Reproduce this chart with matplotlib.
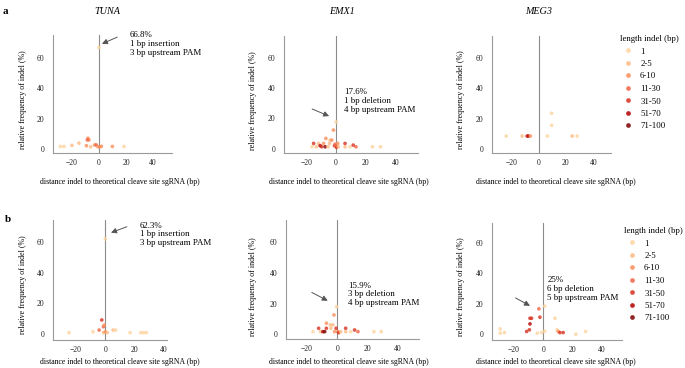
import matplotlib
matplotlib.use('Agg')
import matplotlib.pyplot as plt
from matplotlib.lines import Line2D

plt.rcParams['font.family'] = ['Liberation Serif', 'DejaVu Serif']

W, H = 685, 368

# indel length classes and colours
classes = ['1', '2-5', '6-10', '11-30', '31-50', '51-70', '71-100']
class_colors = ['#fdd49e', '#fdbb84', '#fc8d59', '#ef6548', '#d7301f', '#b30000', '#7f0000']

# x: distance indel to cleave site (bp), y: relative frequency (%), c: length class index
tuna_a_x = [-28.6, -25.9, -20, -14.8, -9.3, -8.1, -7.4, -8.6, -6.1, -3.2, -2, -0.7, 0.5, 1.8, 9.9, 18.5, 0]
tuna_a_y = [1.7, 1.7, 2.4, 3.9, 2.2, 7.1, 6.0, 6.0, 1.5, 2.7, 2.7, 1.5, 1.5, 1.8, 1.7, 1.7, 66.8]
tuna_a_c = [0, 0, 1, 1, 2, 2, 2, 3, 1, 2, 3, 2, 2, 2, 2, 0, 0]

emx1_a_x = [-16.2, -15.1, -13.3, -11.8, -10.7, -9.6, -8.4, -7.3, -6.9, -5.5, -4.4, -4.0, -2.9, -1.8,
            -1.1, -0.7, 0, 0.3, 0, 1.1, 1.5, 6.0, 6.0, 9.3, 11.5, 13.3, 24.4, 29.8]
emx1_a_y = [1.3, 3.5, 1.3, 3.5, 2.0, 1.3, 3.5, 1.3, 6.8, 1.3, 3.5, 5.7, 5.7, 12.3,
            2.0, 3.0, 1.3, 1.0, 17.6, 3.5, 1.3, 3.5, 1.3, 1.3, 2.4, 1.3, 1.3, 1.3]
emx1_a_c = [0, 4, 1, 1, 5, 4, 2, 6, 2, 1, 1, 1, 2, 2,
            4, 3, 2, 4, 0, 2, 1, 4, 1, 0, 4, 3, 0, 0]

meg3_a_x = [-23.6, -12, -8.4, -7.4, -6, 6.5, 9.6, 9.6, 24.6, 28.2]
meg3_a_y = [8.7, 8.7, 8.7, 8.7, 8.7, 8.7, 23.6, 15.7, 8.7, 8.7]
meg3_a_c = [0, 1, 4, 5, 2, 0, 0, 0, 1, 0]

tuna_b_x = [-24.7, -8.4, -4.2, -2.4, -1.3, -0.7, -1.3, 0, 1.3, 5.3, 7.1, 16.9, 24.2, 26, 28, 0]
tuna_b_y = [0.9, 1.5, 2.6, 9.2, 4.8, 5.9, 0.9, 1.5, 0.9, 2.6, 2.6, 0.9, 0.9, 0.9, 0.9, 62.3]
tuna_b_c = [0, 0, 3, 4, 3, 2, 1, 2, 1, 1, 0, 0, 0, 0, 0, 0]

emx1_b_x = [-16, -12.3, -11, -9.5, -8.3, -7.2, -7.2, -4.6, -4.2, -2.9, -2.2, -0.5, -1.8, -0.8,
            0.4, 0.8, 2.2, 5.5, 5.5, 8.8, 11.4, 13.6, 24.1, 28.9]
emx1_b_y = [1.7, 3.9, 1.7, 1.7, 1.7, 7.2, 3.9, 6.1, 3.9, 6.1, 12.6, 18.0, 1.7, 3.9,
            1.7, 1.0, 1.7, 3.9, 1.7, 1.7, 2.8, 1.7, 1.7, 1.7]
emx1_b_c = [0, 4, 1, 5, 6, 2, 4, 1, 1, 1, 2, 0, 2, 4,
            2, 4, 1, 4, 1, 0, 4, 3, 0, 0]

meg3_b_x = [-29.5, -29.5, -26.6, -11.4, -9.5, -9.1, -9.1, -8.0, -4.1, -3.0, -2.3, -1.0, 1.0, 1.0,
            8.0, 9.5, 10.2, 11.4, 13.6, 22.3, 29.0]
meg3_b_y = [3.5, 0.7, 1.1, 1.8, 2.9, 6.8, 10.5, 10.5, 0.7, 16.7, 11.2, 1.1, 18.5, 2.0,
            10.5, 2.9, 1.8, 1.1, 1.1, 0.0, 1.8]
meg3_b_c = [0, 0, 0, 4, 4, 5, 4, 4, 0, 3, 4, 0, 0, 0,
            0, 0, 2, 4, 4, 0, 0]

fig = plt.figure(figsize=(W / 100, H / 100), dpi=100)


def px_rect(l, r, t, b):
    return [l / W, 1 - b / H, (r - l) / W, (b - t) / H]


def add_panel(rect, xlim, ylim, xs, ys, cs, ylab_pos, xlab_pos, note=None):
    ax = fig.add_axes(px_rect(*rect))
    ax.set_xlim(*xlim)
    ax.set_ylim(*ylim)
    for side in ['top', 'right']:
        ax.spines[side].set_visible(False)
    for side in ['left', 'bottom']:
        ax.spines[side].set_color('#9a9a9a')
        ax.spines[side].set_linewidth(0.8)
    ax.axvline(0, color='#8c8c8c', lw=0.8, zorder=1)
    ax.set_xticks([-20, 0, 20, 40])
    ax.set_yticks([0, 20, 40, 60])
    ax.tick_params(length=0, labelsize=5.5, colors='#222222')
    ax.tick_params(axis='x', pad=4)
    ax.tick_params(axis='y', pad=6)
    ax.scatter(xs, ys, c=[class_colors[c] for c in cs], s=7, alpha=0.8,
               linewidths=0, zorder=3)
    fig.text(ylab_pos[0] / W, 1 - ylab_pos[1] / H, 'relative frequency of indel (%)',
             rotation=90, ha='center', va='center', fontsize=5.8)
    fig.text(xlab_pos[0] / W, 1 - xlab_pos[1] / H,
             'distance indel to theoretical cleave site sgRNA (bp)',
             ha='center', va='center', fontsize=5.6)
    if note is not None:
        text, tpos, astart, atip = note
        ax.text(tpos[0], tpos[1], text, ha='left', va='center', fontsize=6.4,
                linespacing=1.12, clip_on=False)
        ax.annotate('', xy=atip, xytext=astart, annotation_clip=False,
                    arrowprops=dict(arrowstyle='-|>', color='#555555', lw=0.7,
                                    mutation_scale=8, shrinkA=0, shrinkB=0))
    return ax


# row a
add_panel((53, 172, 35, 153), (-34, 54), (-2.6, 75), tuna_a_x, tuna_a_y, tuna_a_c,
          (23, 100), (120, 182),
          ('66.8%\n1 bp insertion\n3 bp upstream PAM', (23, 69.2), (13.5, 73.6), (2.2, 69.2)))
add_panel((284, 418, 36, 153), (-35, 55), (-2.8, 74.3), emx1_a_x, emx1_a_y, emx1_a_c,
          (253, 101), (349, 182),
          ('17.6%\n1 bp deletion\n4 bp upstream PAM', (5.4, 31.6), (-16.1, 26.2), (-4.7, 21.5)))
ax_meg3_a = add_panel((492, 611, 36, 153), (-34, 53), (-2.4, 74.2), meg3_a_x, meg3_a_y, meg3_a_c,
                      (461, 100), (556, 182))

# row b
add_panel((53, 167, 220, 340), (-35.6, 42), (-3.9, 74.6), tuna_b_x, tuna_b_y, tuna_b_c,
          (23, 285), (120, 362),
          ('62.3%\n1 bp insertion\n3 bp upstream PAM', (23.6, 65.2), (14.7, 70.2), (3.9, 66.3)))
add_panel((286, 419, 220, 339), (-33.8, 53.8), (-3.1, 74.6), emx1_b_x, emx1_b_y, emx1_b_c,
          (253, 287), (349, 362),
          ('15.9%\n3 bp deletion\n4 bp upstream PAM', (7, 26.1), (-16.8, 27.3), (-6.3, 21.9)))
ax_meg3_b = add_panel((492, 622, 223, 340), (-35.1, 53.9), (-3.8, 73.2), meg3_b_x, meg3_b_y, meg3_b_c,
                      (461, 287), (556, 362),
                      ('25%\n6 bp deletion\n5 bp upstream PAM', (2.7, 29.7), (-19, 23.9), (-9.1, 18.7)))

# gene titles and panel letters
for name, xp in [('TUNA', 107), ('EMX1', 342), ('MEG3', 539)]:
    fig.text(xp / W, 1 - 12 / H, name, style='italic', ha='center', va='center', fontsize=7.3)
fig.text(5 / W, 1 - 12 / H, 'a', weight='bold', ha='center', va='center', fontsize=8)
fig.text(8 / W, 1 - 220 / H, 'b', weight='bold', ha='center', va='center', fontsize=8)

# legends
handles = [Line2D([], [], ls='none', marker='o', markersize=3.4, markeredgewidth=0,
                  color=col, alpha=0.85) for col in class_colors]
for ax, (lx, ty) in [(ax_meg3_a, (620, 35)), (ax_meg3_b, (624, 227))]:
    ax.legend(handles, classes, title='length indel (bp)', loc='upper left',
              bbox_to_anchor=(lx / W, 1 - ty / H), bbox_transform=fig.transFigure,
              frameon=False, fontsize=6.3, title_fontsize=6.3, borderpad=0,
              borderaxespad=0, labelspacing=0.5, handlelength=1.9, handletextpad=0.4,
              alignment='left')

fig.savefig('out.png', dpi=100)
